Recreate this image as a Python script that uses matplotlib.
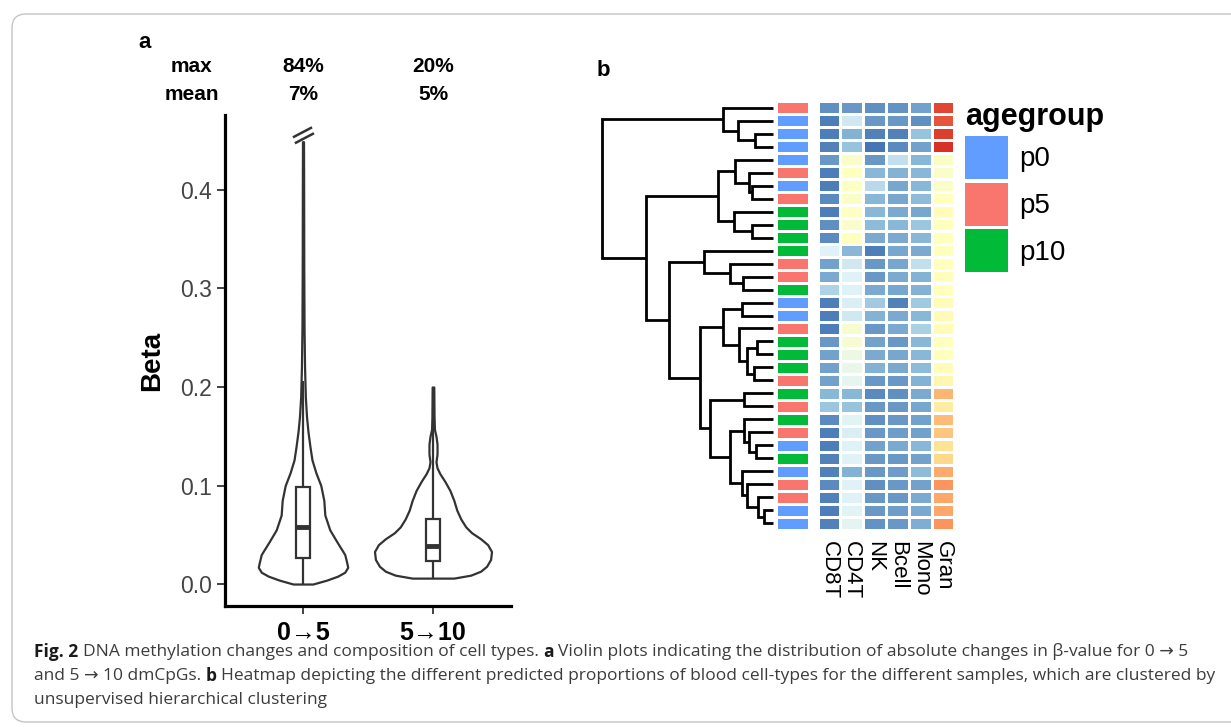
"""
Fig. 2 re-drawing: (a) violin plots of |delta beta| for 0->5 and 5->10 dmCpGs,
(b) cell-type proportion heatmap with agegroup annotation and dendrogram.
Values are read off the published figure.
"""
import numpy as np
import matplotlib
matplotlib.use("Agg")
import matplotlib.pyplot as plt
from matplotlib.colors import LinearSegmentedColormap, ListedColormap
from matplotlib.patches import FancyBboxPatch, Patch
from matplotlib.transforms import blended_transform_factory

# ── Panel a data ──────────────────────────────────────────────────────────────
GROUPS   = ["0\u21925", "5\u219210"]
MAX_PCT  = ["84%", "20%"]
MEAN_PCT = ["7%", "5%"]

# violin outlines: beta value and half width (x units)
V1_Y  = [0.000, 0.004, 0.008, 0.012, 0.017, 0.022, 0.030, 0.043, 0.055, 0.070,
         0.085, 0.100, 0.113, 0.126, 0.140, 0.155, 0.170, 0.190, 0.220, 0.260,
         0.320, 0.400, 0.449]
V1_HW = [0.076, 0.183, 0.267, 0.321, 0.344, 0.336, 0.321, 0.260, 0.206, 0.168,
         0.160, 0.137, 0.099, 0.069, 0.053, 0.038, 0.027, 0.018, 0.012, 0.008,
         0.006, 0.005, 0.004]
V2_Y  = [0.006, 0.009, 0.013, 0.018, 0.025, 0.033, 0.040, 0.046, 0.052, 0.058,
         0.066, 0.075, 0.085, 0.095, 0.104, 0.112, 0.118, 0.124, 0.132, 0.142,
         0.150, 0.157, 0.170, 0.200]
V2_HW = [0.160, 0.290, 0.366, 0.412, 0.443, 0.450, 0.420, 0.366, 0.298, 0.252,
         0.214, 0.183, 0.160, 0.130, 0.092, 0.053, 0.031, 0.023, 0.031, 0.031,
         0.023, 0.011, 0.008, 0.006]

BOX_Q1   = [0.026, 0.023]
BOX_MED  = [0.058, 0.039]
BOX_Q3   = [0.098, 0.066]
WHISK_LO = [0.000, 0.006]
WHISK_HI = [0.206, 0.200]
Y_TICKS  = [0.0, 0.1, 0.2, 0.3, 0.4]

# ── Panel b data ──────────────────────────────────────────────────────────────
LEVELS     = ["p0", "p5", "p10"]
AGE_COLORS = ["#619CFF", "#F8766D", "#00BA38"]
AGEGROUP = ["p5", "p0", "p0", "p0", "p0", "p5", "p0", "p5", "p10", "p10", "p10",
            "p10", "p5", "p5", "p10", "p0", "p0", "p5", "p10", "p10", "p10", "p5",
            "p10", "p5", "p10", "p5", "p0", "p10", "p0", "p5", "p5", "p0", "p0"]

CELL_TYPES = ["CD8T", "CD4T", "NK", "Bcell", "Mono", "Gran"]
# proportions rescaled to the colour range (0 = lowest, 1 = highest)
CD8T  = [0.06, 0.02, 0.02, 0.03, 0.08, 0.02, 0.02, 0.05, 0.02, 0.06, 0.05, 0.33,
         0.10, 0.12, 0.23, 0.02, 0.02, 0.02, 0.08, 0.10, 0.10, 0.10, 0.15, 0.19,
         0.05, 0.02, 0.02, 0.03, 0.03, 0.05, 0.03, 0.02, 0.03]
CD4T  = [0.08, 0.30, 0.14, 0.18, 0.47, 0.50, 0.49, 0.48, 0.49, 0.47, 0.50, 0.15,
         0.30, 0.33, 0.33, 0.32, 0.30, 0.45, 0.45, 0.40, 0.38, 0.36, 0.15, 0.18,
         0.34, 0.32, 0.33, 0.33, 0.14, 0.33, 0.33, 0.34, 0.35]
NK    = [0.06, 0.08, 0.03, 0.00, 0.08, 0.15, 0.25, 0.15, 0.15, 0.16, 0.12, 0.02,
         0.08, 0.08, 0.12, 0.20, 0.14, 0.08, 0.10, 0.12, 0.14, 0.08, 0.05, 0.08,
         0.06, 0.08, 0.10, 0.08, 0.08, 0.06, 0.08, 0.08, 0.07]
BCELL = [0.07, 0.08, 0.03, 0.05, 0.27, 0.14, 0.11, 0.11, 0.12, 0.15, 0.12, 0.11,
         0.11, 0.12, 0.11, 0.03, 0.12, 0.12, 0.08, 0.11, 0.12, 0.08, 0.06, 0.08,
         0.08, 0.09, 0.12, 0.08, 0.09, 0.08, 0.08, 0.09, 0.08]
MONO  = [0.10, 0.06, 0.18, 0.10, 0.15, 0.15, 0.15, 0.16, 0.11, 0.19, 0.15, 0.12,
         0.27, 0.14, 0.14, 0.20, 0.15, 0.22, 0.15, 0.15, 0.16, 0.14, 0.12, 0.11,
         0.10, 0.10, 0.15, 0.10, 0.16, 0.10, 0.12, 0.12, 0.13]
GRAN  = [0.96, 0.93, 0.97, 1.00, 0.48, 0.47, 0.47, 0.50, 0.52, 0.50, 0.50, 0.50,
         0.50, 0.51, 0.50, 0.52, 0.53, 0.52, 0.50, 0.50, 0.52, 0.55, 0.75, 0.60,
         0.74, 0.72, 0.65, 0.68, 0.77, 0.82, 0.78, 0.78, 0.82]

# dendrogram merges (scipy style): left, right, height; new node ids from 33
MERGES = [
    (2, 3, 18), (1, 33, 35), (0, 34, 50),
    (6, 7, 21), (5, 36, 24), (4, 37, 38), (9, 10, 21), (8, 39, 39), (38, 40, 55),
    (13, 14, 30), (12, 42, 43), (11, 43, 69),
    (15, 16, 31), (18, 19, 16), (20, 21, 19), (46, 47, 26), (17, 48, 34), (45, 49, 50),
    (22, 23, 29), (26, 27, 17), (25, 52, 24), (24, 53, 29),
    (31, 32, 9), (30, 55, 15), (29, 56, 26), (28, 57, 31), (54, 58, 43),
    (51, 59, 63), (50, 60, 73), (44, 61, 104), (41, 62, 127), (35, 63, 171),
]

HEAT_COLORS = ["#4575B4", "#91BFDB", "#E0F3F8", "#FFFFBF", "#FEE090", "#FC8D59", "#D73027"]

CAPTION = [
    [("Fig. 2", True), ("DNA methylation changes and composition of cell types.", False),
     ("a", True), ("Violin plots indicating the distribution of absolute changes in "
                   "\u03b2-value for 0 \u2192 5", False)],
    [("and 5 \u2192 10 dmCpGs.", False), ("b", True),
     ("Heatmap depicting the different predicted proportions of blood cell-types for "
      "the different samples, which are clustered by", False)],
    [("unsupervised hierarchical clustering", False)],
]

# ── Figure ────────────────────────────────────────────────────────────────────
plt.rcParams["font.family"] = ["Liberation Sans", "DejaVu Sans"]
W, H = 1231, 727
fig = plt.figure(figsize=(W / 100, H / 100), dpi=100)
LINE = "#333333"


def box(x0, y0, x1, y1):
    """pixel box (top-left origin) -> figure fraction rect"""
    return [x0 / W, 1 - y1 / H, (x1 - x0) / W, (y1 - y0) / H]


bg = fig.add_axes([0, 0, 1, 1], zorder=-5)
bg.set_xlim(0, W)
bg.set_ylim(H, 0)
bg.axis("off")
bg.add_patch(FancyBboxPatch((12, 14), 1260, 708, boxstyle="round,pad=0,rounding_size=14",
                            fc="none", ec="#c4c4c4", lw=1.0))

# ── Panel a ───────────────────────────────────────────────────────────────────
ax = fig.add_axes(box(225, 115, 511, 606))
ax.set_xlim(0.4, 2.6)
ax.set_ylim(-0.0223, 0.4761)

for i, (vy, vw) in enumerate([(V1_Y, V1_HW), (V2_Y, V2_HW)]):
    xc = i + 1
    vy, vw = np.array(vy), np.array(vw)
    ax.fill_betweenx(vy, xc - vw, xc + vw, fc="white", ec=LINE, lw=1.6, zorder=2)
    ax.vlines(xc, WHISK_LO[i], BOX_Q1[i], color=LINE, lw=1.6, zorder=3)
    ax.vlines(xc, BOX_Q3[i], WHISK_HI[i], color=LINE, lw=1.6, zorder=3)
    ax.bar(xc, BOX_Q3[i] - BOX_Q1[i], bottom=BOX_Q1[i], width=0.11,
           fc="white", ec=LINE, lw=1.6, zorder=3)
    ax.hlines(BOX_MED[i], xc - 0.055, xc + 0.055, color=LINE, lw=3.5, zorder=4)

# axis break marks on the truncated 0->5 tail
top = V1_Y[-1]
for dx, dy in [(0.0, 0.0), (0.015, -0.006)]:
    ax.plot([1 - 0.069 + dx, 1 + 0.061 + dx], [top + 0.005 + dy, top + 0.014 + dy],
            color=LINE, lw=1.8, clip_on=False, zorder=5)

for s in ["top", "right"]:
    ax.spines[s].set_visible(False)
for s in ["left", "bottom"]:
    ax.spines[s].set_linewidth(2.3)
    ax.spines[s].set_color("black")

ax.set_yticks(Y_TICKS, [f"{v:.1f}" for v in Y_TICKS])
ax.set_xticks([1, 2], GROUPS, fontsize=18, fontweight="bold")
ax.tick_params(axis="y", labelsize=16.5, labelcolor="#444444", color=LINE,
               length=5.5, width=1.3, pad=4)
ax.tick_params(axis="x", labelcolor="black", color=LINE, length=5.5, width=1.3, pad=5)
ax.set_ylabel("Beta", fontsize=20, fontweight="bold")
ax.yaxis.label.set_verticalalignment("center")
ax.yaxis.set_label_coords(-0.255, 0.5)

tr = blended_transform_factory(ax.transData, fig.transFigure)
for label, y in [("max", 67), ("mean", 95)]:
    ax.text(0.145, 1 - y / H, label, transform=tr, ha="center", va="center",
            fontsize=15, fontweight="bold")
for i in range(2):
    ax.text(i + 1, 1 - 67 / H, MAX_PCT[i], transform=tr, ha="center", va="center",
            fontsize=15, fontweight="bold")
    ax.text(i + 1, 1 - 95 / H, MEAN_PCT[i], transform=tr, ha="center", va="center",
            fontsize=15, fontweight="bold")

fig.text(145 / W, 1 - 43 / H, "a", fontsize=16, fontweight="bold", ha="center", va="center")
fig.text(603 / W, 1 - 70 / H, "b", fontsize=16, fontweight="bold", ha="center", va="center")

# ── Panel b ───────────────────────────────────────────────────────────────────
N = len(AGEGROUP)
ROW_TOP, ROW_BOT = 101.5, 529.5

# dendrogram
ax_d = fig.add_axes(box(598, ROW_TOP, 773, ROW_BOT))
ax_d.set_xlim(175, 0)
ax_d.set_ylim(N + 0.5, 0.5)
ax_d.axis("off")
pos = {i: (i + 1, 0.0) for i in range(N)}
for k, (a, b, h) in enumerate(MERGES):
    ya, ha = pos[a]
    yb, hb = pos[b]
    ax_d.plot([ha, h, h, hb], [ya, ya, yb, yb], color="black", lw=2.0,
              solid_joinstyle="miter", solid_capstyle="butt", clip_on=False)
    pos[N + k] = ((ya + yb) / 2, h)

# agegroup annotation column
codes = np.array([LEVELS.index(g) for g in AGEGROUP])[:, None]
ax_a = fig.add_axes(box(775.5, ROW_TOP, 808.5, ROW_BOT))
ax_a.pcolormesh([0.5, 1.5], np.arange(0.5, N + 1), codes, cmap=ListedColormap(AGE_COLORS),
                vmin=-0.5, vmax=2.5, edgecolors="white", linewidth=1.8)
ax_a.set_xlim(0.5, 1.5)
ax_a.set_ylim(N + 0.5, 0.5)
ax_a.axis("off")

# cell-type heatmap
cmap = LinearSegmentedColormap.from_list("rdylbu_r", HEAT_COLORS)
M = np.array([CD8T, CD4T, NK, BCELL, MONO, GRAN]).T
ax_h = fig.add_axes(box(817.6, ROW_TOP, 954.4, ROW_BOT))
ax_h.pcolormesh(np.arange(0.5, 7), np.arange(0.5, N + 1), M, cmap=cmap, vmin=0, vmax=1,
                edgecolors="white", linewidth=1.8)
ax_h.set_xlim(0.5, 6.5)
ax_h.set_ylim(N + 0.5, 0.5)
ax_h.set_yticks([])
ax_h.set_xticks(range(1, 7), CELL_TYPES, rotation=-90, fontsize=16, va="top", ha="center")
ax_h.tick_params(length=0, pad=8)
for s in ax_h.spines.values():
    s.set_visible(False)

handles = [Patch(facecolor=c, edgecolor="none", label=l) for l, c in zip(LEVELS, AGE_COLORS)]
ax_h.legend(handles=handles, title="agegroup", loc="upper left",
            bbox_to_anchor=(965 / W, 1 - 102 / H), bbox_transform=fig.transFigure,
            frameon=False, fontsize=20, title_fontproperties={"weight": "bold", "size": 22},
            handlelength=1.55, handleheight=2.0, labelspacing=0.14, handletextpad=0.4,
            borderpad=0, borderaxespad=0, alignment="left")

# ── Caption ───────────────────────────────────────────────────────────────────
CAP_FONT = ["Open Sans", "DejaVu Sans"]
renderer = fig.canvas.get_renderer()


def text_width(s, size, bold):
    t = fig.text(0, 0, s, fontsize=size, family=CAP_FONT,
                 fontweight="bold" if bold else "normal")
    w = t.get_window_extent(renderer).width
    t.remove()
    return w


def line_width(parts, size):
    sp = text_width("a a", size, False) - text_width("aa", size, False)
    return sum(text_width(s, size, b) for s, b in parts) + sp * (len(parts) - 1)


# one size for all lines, chosen so the widest line spans the caption block
cap_size = 10.0 * 1180 / max(line_width(p, 10.0) for p in CAPTION)
space = text_width("a a", cap_size, False) - text_width("aa", cap_size, False)
for parts, y in zip(CAPTION, [652, 676, 700]):
    x = 34
    for s, b in parts:
        t = fig.text(x / W, 1 - y / H, s, fontsize=cap_size, family=CAP_FONT,
                     fontweight="bold" if b else "normal", ha="left", va="center",
                     color="#1a1a1a" if b else "#3c3c3c")
        x = t.get_window_extent(renderer).x1 + space

fig.savefig("out.png", dpi=100)
